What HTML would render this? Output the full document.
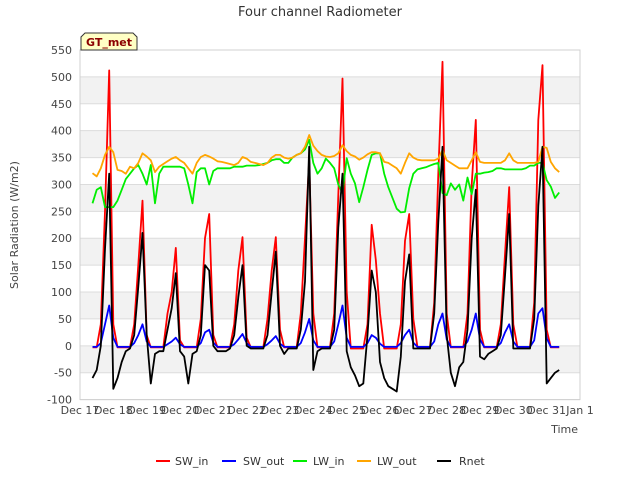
<!DOCTYPE html>
<html><head><meta charset="utf-8"><style>
body{margin:0;background:#fff;font-family:"Liberation Sans","DejaVu Sans",sans-serif}
svg text{font-family:"DejaVu Sans","Liberation Sans",sans-serif}
</style></head><body>
<svg id="chart" width="640" height="480" viewBox="0 0 640 480">
<g id="bg"></g><g id="series"></g><g id="axes"></g>
</svg>
<script>
const dayLabels=["Dec 17","Dec 18","Dec 19","Dec 20","Dec 21","Dec 22","Dec 23","Dec 24","Dec 25","Dec 26","Dec 27","Dec 28","Dec 29","Dec 30","Dec 31","Jan 1"];
const yTicks=[-100,-50,0,50,100,150,200,250,300,350,400,450,500,550];
const startDay=0.375, stepDay=0.125;
const swIn=[-3,-3,40,250,512, 40,-3,-3,-3,-3,40,150,270, 20,-3,-3,-3,-3,60,100,182, 10,-3,-3,-3,-3,50,200,245, 20,-3,-3,-3,-3,40,140,202, 15,-3,-3,-3,-3,50,140,202, 30,-3,-3,-3,-3,60,200,345, 60,-3,-3,-3,-3,60,280,497, 100,-5,-5,-5,-5,40,225,160, 60,-5,-5,-5,-5,40,195,245, 50,-3,-3,-3,-3,80,320,528, 60,-3,-3,-3,-3,60,300,420, 30,-3,-3,-3,-3,40,170,295, 40,-3,-3,-3,-3,80,420,522, 30,-3,-3,-3];
const swOut=[-2,-2,5,40,75, 15,-2,-2,-2,-2,5,20,40, 8,-2,-2,-2,-2,3,8,15, 3,-2,-2,-2,-2,5,25,30, 6,-2,-2,-2,-2,3,12,22, 5,-2,-2,-2,-2,3,10,18, 4,-2,-2,-2,-2,5,25,50, 10,-2,-2,-2,-2,8,40,75, 15,-2,-2,-2,-2,5,20,15, 4,-2,-2,-2,-2,5,20,30, 6,-2,-2,-2,-2,8,40,60, 12,-2,-2,-2,-2,8,30,60, 12,-2,-2,-2,-2,5,25,40, 8,-2,-2,-2,-2,10,60,70, 14,-2,-2,-2];
const lwIn=[265,290,295,258,258, 258,270,290,310,320,330,336,320, 300,336,265,320,333,333,333,333, 333,330,300,265,323,330,330,300, 325,330,330,330,330,333,333,333, 335,335,335,336,338,340,345,347, 347,340,340,350,355,358,365,383, 340,320,330,348,340,330,300,284, 349,320,302,267,295,327,355,358, 358,320,295,275,255,248,249,293, 320,328,330,332,335,338,340,284, 280,302,290,300,270,313,282,320, 320,322,323,325,330,330,328,328, 328,328,328,330,335,335,340,340, 308,296,275,285];
const lwOut=[321,315,330,355,370, 360,327,325,320,333,330,340,358, 352,345,323,333,338,343,348,351, 345,340,330,320,340,351,355,352, 348,343,342,340,338,336,340,351, 348,342,340,338,336,340,350,355, 355,350,348,350,355,358,370,392, 372,362,355,352,351,353,358,373, 362,355,352,346,350,356,360,360, 358,342,340,335,330,320,340,358, 350,346,345,345,345,345,348,364, 345,340,335,330,330,330,345,360, 342,340,340,340,340,340,345,358, 345,340,340,340,340,340,342,370, 368,342,330,323];
const rnet=[-60,-45,0,180,320, -80,-60,-30,-10,-5,20,110,210, 20,-70,-15,-10,-10,30,70,135, -10,-20,-70,-15,-10,20,150,140, 0,-10,-10,-10,-5,20,90,150, 0,-5,-5,-5,-5,20,100,175, 0,-15,-5,-5,-5,30,120,370, -45,-10,-5,-5,-5,30,220,320, -10,-40,-55,-75,-70,20,140,100, -30,-60,-75,-80,-85,-20,120,170, -5,-5,-5,-5,-5,60,230,370, 20,-50,-75,-40,-30,30,200,290, -20,-25,-15,-10,-5,20,130,245, -5,-5,-5,-5,-5,50,260,370, -70,-60,-50,-45];
const seriesNames=["SW_in","SW_out","LW_in","LW_out","Rnet"];

const NS="http://www.w3.org/2000/svg";
const L=80,R=580,T=50,B=399.6;
const xS=d=>L+(R-L)*d/15;
const yS=v=>T+(550-v)*(B-T)/650;
function mk(tag,attrs,parent,txt){const e=document.createElementNS(NS,tag);for(const k in attrs)e.setAttribute(k,attrs[k]);if(txt!=null)e.textContent=txt;parent.appendChild(e);return e;}
const bg=document.getElementById('bg'),ser=document.getElementById('series'),ax=document.getElementById('axes');
for(let v=-100;v<550;v+=50){ if(((v+100)/50)%2===1){const r=mk('rect',{x:L,y:yS(v+50),width:R-L,height:yS(v)-yS(v+50),fill:'#f2f2f2'},bg);

}}
yTicks.forEach(v=>{const g=mk('line',{x1:L,x2:R,y1:yS(v),y2:yS(v),stroke:'#dcdcdc','stroke-width':1},bg);


const t=mk('text',{x:72,y:yS(v)+4,'text-anchor':'end','font-size':11,fill:'#444'},ax,String(v));

});
const fr=mk('rect',{x:L,y:T,width:R-L,height:B-T,fill:'none',stroke:'#d0d0d0'},bg);


dayLabels.forEach((s,i)=>{const t=mk('text',{x:xS(i),y:414,'text-anchor':'middle','font-size':11,fill:'#444'},ax,s);

});
function draw(arr,color,name){let d='';arr.forEach((v,i)=>{if(v==null)return;const x=xS(startDay+i*stepDay),y=yS(v);d+=(d?'L':'M')+x.toFixed(1)+','+y.toFixed(1);});
const p=mk('path',{d:d,fill:'none',stroke:color,'stroke-width':1.8,'stroke-linejoin':'round'},ser);

}
draw(swIn,'#ff0000','sw-in-line');
draw(swOut,'#0000ff','sw-out-line');
draw(lwIn,'#00ee00','lw-in-line');
draw(lwOut,'#ffa500','lw-out-line');
draw(rnet,'#000000','rnet-line');
</script>
<svg style="position:absolute;left:0;top:0" width="640" height="480">
<text x="320" y="16" text-anchor="middle" font-size="13" fill="#333">Four channel Radiometer</text>
<text x="18" y="225" text-anchor="middle" font-size="11" fill="#444" transform="rotate(-90 18 225)">Solar Radiation (W/m2)</text>
<text x="578" y="433" text-anchor="end" font-size="11" fill="#444">Time</text>
<g>
<path d="M81,50 L81,37 L85,33 L133,33 L137,37 L137,50 Z" fill="#ffffc4" stroke="#333" stroke-width="1"/>
<text x="109" y="46" text-anchor="middle" font-size="11" font-weight="bold" fill="#8b0000">GT_met</text>
</g>
<g>
<g><line x1="156" x2="170" y1="461" y2="461" stroke="#ff0000" stroke-width="2"/><text x="175" y="465" font-size="11" fill="#333">SW_in</text></g>
<g><line x1="222" x2="236" y1="461" y2="461" stroke="#0000ff" stroke-width="2"/><text x="243" y="465" font-size="11" fill="#333">SW_out</text></g>
<g><line x1="293" x2="307" y1="461" y2="461" stroke="#00ee00" stroke-width="2"/><text x="313" y="465" font-size="11" fill="#333">LW_in</text></g>
<g><line x1="357" x2="371" y1="461" y2="461" stroke="#ffa500" stroke-width="2"/><text x="377" y="465" font-size="11" fill="#333">LW_out</text></g>
<g><line x1="437" x2="451" y1="461" y2="461" stroke="#000" stroke-width="2"/><text x="459" y="465" font-size="11" fill="#333">Rnet</text></g>
</g>
</svg>
</body></html>
